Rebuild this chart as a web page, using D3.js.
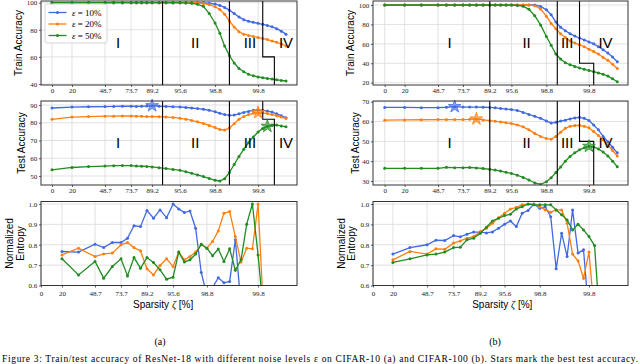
<!DOCTYPE html>
<html>
<head>
<meta charset="utf-8">
<script src="https://cdn.jsdelivr.net/npm/d3@7"></script>
<style>
  body { margin: 0; background: #fff; }
  svg { display: block; }
</style>
</head>
<body>
<svg id="fig" width="640" height="364"></svg>
<script>
// pruning iterations k that carry a sparsity tick label
const tickK = [0, 1, 3, 6, 10, 14, 20, 29];
const tickLabels = ['0', '20', '48.7', '73.7', '89.2', '95.6', '98.8', '99.8'];
const noiseLabels = ['10%', '20%', '50%'];
const phaseNames = ['I', 'II', 'III', 'IV'];
const colors = ['#4169e1', '#ff7f0e', '#228b22'];

// CIFAR-10 train accuracy, k = 0..35
const c10TrainE10 = [100, 100, 100, 100, 100, 100, 100, 100, 100, 100, 100, 100, 100, 100, 100, 100, 100, 100,
  99.9, 99.6, 99, 98, 96.5, 94.5, 92, 89.5, 87.5, 86.3, 85.5, 84.8, 84, 83.2, 82.2, 80.8, 79, 76.8];
const c10TrainE20 = [100, 100, 100, 100, 100, 100, 100, 100, 100, 100, 100, 100, 100, 100, 100, 100, 100,
  99.8, 99.4, 98.6, 97, 95, 91.5, 86.5, 82, 78.5, 76.8, 75.8, 75, 74.3, 73.6, 72.8, 71.8, 70.8, 69.5, 68.1];
const c10TrainE50 = [100, 100, 100, 100, 100, 100, 100, 100, 100, 100, 100, 100, 100, 100, 100,
  99.8, 99.5, 98.8, 97.3, 92, 85, 77.5, 68, 61, 55.5, 51.5, 49, 47.2, 46, 45.2, 44.6, 44.1, 43.6, 43.1, 42.6, 42.2];

// CIFAR-10 test accuracy, k = 0..35
const c10TestE10 = [88.3, 88.8, 89.0, 89.1, 89.2, 89.3, 89.3, 89.2, 89.3, 89.4, 89.6, 89.3, 89.2, 89.0, 88.9, 88.6, 88.3, 88.0,
  87.6, 87.0, 86.2, 85.3, 84.6, 84.2, 84.3, 85.0, 85.8, 86.4, 87.0, 87.2, 87.0, 86.6, 86.0, 85.0, 84.0, 82.8];
const c10TestE20 = [81.9, 83.2, 83.5, 83.7, 83.7, 83.8, 83.8, 83.7, 83.6, 83.5, 83.5, 83.4, 83.2, 83.0, 82.5, 82.0, 81.3, 80.5,
  79.6, 78.5, 77.3, 76.2, 75.9, 77.0, 79.5, 82.0, 83.5, 84.6, 85.3, 85.7, 85.6, 85.2, 84.6, 84.0, 83.2, 82.4];
const c10TestE50 = [53.5, 54.8, 55.3, 55.6, 55.8, 55.9, 55.9, 55.6, 55.5, 55.4, 55.1, 54.7, 54.2, 53.7, 53.2, 52.4, 51.5, 50.6,
  49.7, 48.6, 47.6, 47.2, 48.5, 52.0, 56.5, 61.0, 65.0, 68.8, 72.0, 74.8, 76.8, 78.0, 78.5, 78.7, 78.2, 77.7];

// CIFAR-10 normalized entropy, k = 1..
const c10EntE10 = [0.767, 0.764, 0.803, 0.786, 0.811, 0.811, 0.832, 0.893, 0.889, 0.968, 0.930, 0.971, 0.933, 1.0,
  0.976, 0.958, 0.966, 0.881, 0.664, 0.55, 0.59, 0.638, 0.613, 0.62, 0.824, 0.5];
const c10EntE20 = [0.750, 0.783, 0.742, 0.755, 0.759, 0.800, 0.811, 0.786, 0.770, 0.682, 0.652, 0.698, 0.731, 0.693,
  0.764, 0.726, 0.742, 0.764, 0.800, 0.783, 0.816, 0.868, 0.955, 0.963, 0.840, 0.715, 0.783, 0.780, 1.0, 0.45];
const c10EntE50 = [0.731, 0.652, 0.718, 0.636, 0.693, 0.731, 0.647, 0.737, 0.685, 0.737, 0.713, 0.677, 0.631, 0.641,
  0.764, 0.715, 0.726, 0.754, 0.803, 0.783, 0.746, 0.779, 0.718, 0.780, 0.675, 0.726, 0.901, 1.0, 0.75, 0.45];

// CIFAR-100 train accuracy, k = 0..35
const c100TrainE10 = [100, 100, 100, 100, 100, 100, 100, 100, 100, 100, 100, 100, 100, 100, 100, 100, 100, 100, 100,
  98.5, 95, 90, 82.5, 77, 73.5, 70.5, 68, 66, 64, 62, 60, 57, 54, 50.5, 46.5, 41.6];
const c100TrainE20 = [100, 100, 100, 100, 100, 100, 100, 100, 100, 100, 100, 100, 100, 100, 100, 100, 100, 100,
  99.3, 96, 88.5, 81, 75.5, 70.5, 66.5, 63, 60.8, 59, 57, 54.5, 52, 49.5, 46, 43, 39, 34.7];
const c100TrainE50 = [100, 100, 100, 100, 100, 100, 100, 100, 100, 100, 100, 100, 100, 100, 100,
  99.6, 98.8, 95.5, 89, 79.5, 67.5, 58.5, 49.5, 44.5, 40.5, 38.5, 36.8, 35.2, 33.8, 32.6, 31.3, 30, 28.6, 26.8, 24, 21];

// CIFAR-100 test accuracy, k = 0..35
const c100TestE10 = [67.1, 67.1, 67.0, 67.0, 67.2, 67.5, 67.3, 67.3, 67.3, 67.2, 67.1, 66.9, 66.6, 66.3, 66.0, 65.6, 64.6, 63.6,
  62.6, 61.6, 60.3, 59.2, 59.6, 60.2, 60.7, 61.3, 61.8, 62.1, 61.6, 60.5, 58.2, 55.8, 52.5, 49.8, 47.0, 44.2];
const c100TestE20 = [60.7, 60.8, 60.9, 61.0, 61.0, 61.0, 61.0, 61.1, 61.3, 60.8, 60.4, 60.1, 59.8, 59.4, 59.0, 58.3, 57.3, 55.8,
  54.0, 52.5, 51.4, 51.1, 52.4, 54.6, 56.6, 57.6, 58.0, 58.1, 57.6, 56.8, 55.0, 53.0, 50.8, 48.2, 45.4, 42.6];
const c100TestE50 = [36.4, 36.4, 36.4, 36.4, 36.9, 36.7, 36.7, 36.8, 36.6, 36.3, 35.9, 35.5, 35.0, 34.4, 33.8, 32.9, 31.8, 30.5,
  29.0, 28.3, 29.6, 31.6, 34.3, 37.0, 40.0, 42.3, 44.2, 45.7, 46.8, 47.5, 47.2, 46.2, 44.6, 42.6, 40.0, 37.2];

// CIFAR-100 normalized entropy, k = 1..
const c100EntE10 = [0.754, 0.786, 0.800, 0.822, 0.821, 0.845, 0.839, 0.852, 0.862, 0.862, 0.858, 0.863, 0.881, 0.901,
  0.917, 0.889, 0.955, 0.968, 1.0, 0.979, 0.987, 0.938, 0.682, 0.857, 0.742, 0.971, 0.759, 0.775, 0.45];
const c100EntE20 = [0.726, 0.767, 0.754, 0.780, 0.778, 0.808, 0.819, 0.832, 0.840, 0.865, 0.881, 0.906, 0.933, 0.955,
  0.975, 0.984, 0.996, 0.999, 0.999, 0.987, 0.971, 0.960, 0.971, 0.971, 0.906, 0.754, 0.721, 0.636, 0.764, 0.45];
const c100EntE50 = [0.713, 0.731, 0.750, 0.754, 0.764, 0.786, 0.788, 0.824, 0.832, 0.857, 0.886, 0.917, 0.930, 0.943,
  0.950, 0.976, 0.987, 1.0, 0.996, 0.996, 0.996, 0.996, 0.971, 0.947, 0.922, 0.873, 0.901, 0.873, 0.840, 0.796, 0.4];

// best test accuracy (stars), phase boundaries and phase label spots, in k
const c10StarK = [10, 29, 31];
const c100StarK = [5, 8, 29];
const c10PhaseK = [11.5, 23, 30, 32.5];
const c100PhaseK = [10, 22.3, 27, 30];
const c10PhaseLabelK = [4.5, 16.6, 27.3, 35];
const c100PhaseLabelK = [4.4, 16.6, 24.4, 32.5];

const serif = '"Liberation Serif", "DejaVu Serif", serif';
const sans = '"Liberation Sans", Arial, sans-serif';
const svg = d3.select('#fig');
let clipCount = 0;

function drawPanel(p) {
  const g = svg.append('g').attr('transform', `translate(${p.x0},${p.y0})`);
  const x = d3.scaleLinear().domain(p.stopK).range(p.stopF.map((f) => f * p.w));
  const y = d3.scaleLinear().domain(p.yDomain).range([p.h, 0]);
  const clipId = 'clip' + clipCount++;
  g.append('clipPath').attr('id', clipId).append('rect').attr('width', p.w).attr('height', p.h);

  // grid
  g.append('g').selectAll('line').data(tickK).join('line')
    .attr('x1', (d) => x(d)).attr('x2', (d) => x(d))
    .attr('y1', 0).attr('y2', p.h)
    .attr('stroke', '#d9d9d9').attr('stroke-width', 0.8);
  g.append('g').selectAll('line').data(p.yTicks).join('line')
    .attr('x1', 0).attr('x2', p.w)
    .attr('y1', (d) => y(d)).attr('y2', (d) => y(d))
    .attr('stroke', '#d9d9d9').attr('stroke-width', 0.8);

  const xAxis = g.append('g')
    .attr('transform', `translate(0,${p.h})`)
    .call(d3.axisBottom(x).tickValues(tickK).tickFormat((d, i) => tickLabels[i])
      .tickSizeInner(2).tickSizeOuter(0).tickPadding(p.xPad));
  const yAxis = g.append('g')
    .call(d3.axisLeft(y).tickValues(p.yTicks).tickFormat(p.yFmt)
      .tickSizeInner(2).tickSizeOuter(0).tickPadding(1.7));
  [xAxis, yAxis].forEach((a) => {
    a.select('.domain').remove();
    a.selectAll('line').attr('stroke', '#333').attr('stroke-width', 0.8);
    a.selectAll('text').attr('font-family', serif).attr('font-size', 7).attr('fill', '#222');
  });

  const line = d3.line().x((d) => x(d.k)).y((d) => y(d.v));
  p.series.forEach((vals, si) => {
    const pts = vals.map((v, i) => ({ k: p.startK + i, v: v }));
    const sg = g.append('g').attr('clip-path', `url(#${clipId})`);
    sg.append('path').datum(pts)
      .attr('d', line)
      .attr('fill', 'none')
      .attr('stroke', colors[si])
      .attr('stroke-width', 1.3);
    sg.selectAll('circle').data(pts).join('circle')
      .attr('cx', (d) => x(d.k)).attr('cy', (d) => y(d.v))
      .attr('r', 1.5)
      .attr('fill', colors[si]);
  });

  if (p.bounds) {
    const [b1, b2, b3, b4] = p.bounds;
    [b1, b2].forEach((b) => {
      g.append('line')
        .attr('x1', x(b)).attr('x2', x(b))
        .attr('y1', 0).attr('y2', p.h)
        .attr('stroke', '#000').attr('stroke-width', 1.1);
    });
    g.append('path')
      .attr('d', `M${x(b3)},0V${y(p.stepV)}H${x(b4)}V${p.h}`)
      .attr('fill', 'none').attr('stroke', '#000').attr('stroke-width', 1.1);
  }

  if (p.stars) {
    p.stars.forEach((k, si) => {
      g.append('path')
        .attr('d', d3.symbol(d3.symbolStar, 50)())
        .attr('transform', `translate(${x(k)},${y(p.series[si][k - p.startK])})`)
        .attr('fill', colors[si]).attr('fill-opacity', 0.6)
        .attr('stroke', colors[si]).attr('stroke-width', 0.8);
    });
  }

  g.append('rect')
    .attr('width', p.w).attr('height', p.h)
    .attr('fill', 'none').attr('stroke', '#333').attr('stroke-width', 1);

  if (p.phaseLabelK) {
    g.append('g').selectAll('text').data(p.phaseLabelK).join('text')
      .attr('x', (d) => x(d)).attr('y', p.h * 0.49)
      .attr('text-anchor', 'middle').attr('dominant-baseline', 'central')
      .attr('font-family', sans).attr('font-size', 15)
      .text((d, i) => phaseNames[i]);
  }

  p.ylabel.forEach((txt, i) => {
    g.append('text')
      .attr('transform', `translate(${p.ylabelDx[i]},${p.h / 2}) rotate(-90)`)
      .attr('text-anchor', 'middle')
      .attr('font-family', sans).attr('font-size', 10)
      .text(txt);
  });

  if (p.xlabel) {
    const t = g.append('text')
      .attr('x', p.w * p.xlabelF).attr('y', p.h + 22)
      .attr('text-anchor', 'middle')
      .attr('font-family', sans).attr('font-size', 10);
    t.append('tspan').text('Sparsity ');
    t.append('tspan').attr('font-family', serif).attr('font-style', 'italic').text('ζ');
    t.append('tspan').text(' [%]');
  }

  if (p.legend) {
    const lg = g.append('g').attr('transform', 'translate(4,3)');
    lg.append('rect')
      .attr('width', 62).attr('height', 39).attr('rx', 2)
      .attr('fill', '#fff').attr('fill-opacity', 0.85)
      .attr('stroke', '#ccc').attr('stroke-width', 0.8);
    noiseLabels.forEach((lab, i) => {
      const row = lg.append('g').attr('transform', `translate(0,${8.5 + i * 11.5})`);
      row.append('line').attr('x1', 3.5).attr('x2', 21.5)
        .attr('stroke', colors[i]).attr('stroke-width', 1.3);
      row.append('circle').attr('cx', 12.5).attr('r', 1.5).attr('fill', colors[i]);
      const t = row.append('text').attr('x', 27).attr('y', 3)
        .attr('font-family', serif).attr('font-size', 9);
      t.append('tspan').attr('font-style', 'italic').text('ε');
      t.append('tspan').text(' = ' + lab);
    });
  }
}

const accStopK = [0, 1, 3, 6, 10, 14, 20, 29, 35];
const entStopK = [0, 1, 3, 6, 10, 14, 20, 29, 36];

const columns = [
  {
    x0: 41, w: 256,
    accStops: [0.043, 0.121, 0.25, 0.352, 0.434, 0.543, 0.68, 0.848, 0.957],
    entStops: [0, 0.082, 0.211, 0.3125, 0.414, 0.516, 0.648, 0.848, 1.0],
    train: [c10TrainE10, c10TrainE20, c10TrainE50], trainDomain: [39.26, 101.25], trainTicks: [40, 60, 80, 100], trainStep: 60,
    test: [c10TestE10, c10TestE20, c10TestE50], testDomain: [44.93, 92.25], testTicks: [50, 60, 70, 80, 90], testStep: 82,
    ent: [c10EntE10, c10EntE20, c10EntE50],
    stars: c10StarK, bounds: c10PhaseK, phaseLabelK: c10PhaseLabelK,
    dx: { train: -19, test: -16, ent: [-28, -17.5] }, xlabelF: 0.477, legend: true,
    caption: '(a)', captionX: 160
  },
  {
    x0: 373, w: 255,
    accStops: [0.046, 0.124, 0.255, 0.353, 0.458, 0.543, 0.68, 0.847, 0.958],
    entStops: [0, 0.078, 0.212, 0.316, 0.421, 0.516, 0.654, 0.847, 1.0],
    train: [c100TrainE10, c100TrainE20, c100TrainE50], trainDomain: [17.63, 104.12], trainTicks: [20, 40, 60, 80, 100], trainStep: 40,
    test: [c100TestE10, c100TestE20, c100TestE50], testDomain: [27.98, 70.35], testTicks: [30, 40, 50, 60, 70], testStep: 50,
    ent: [c100EntE10, c100EntE20, c100EntE50],
    stars: c100StarK, bounds: c100PhaseK, phaseLabelK: c100PhaseLabelK,
    dx: { train: -19, test: -14.5, ent: [-28, -18] }, xlabelF: 0.507, legend: false,
    caption: '(b)', captionX: 495
  }
];

columns.forEach((c) => {
  drawPanel({
    x0: c.x0, y0: 1, w: c.w, h: 84, stopK: accStopK, stopF: c.accStops,
    yDomain: c.trainDomain, yTicks: c.trainTicks, yFmt: d3.format('d'), xPad: 0.7,
    series: c.train, startK: 0, bounds: c.bounds, stepV: c.trainStep,
    phaseLabelK: c.phaseLabelK, ylabel: ['Train Accuracy'], ylabelDx: [c.dx.train],
    legend: c.legend
  });
  drawPanel({
    x0: c.x0, y0: 101, w: c.w, h: 84, stopK: accStopK, stopF: c.accStops,
    yDomain: c.testDomain, yTicks: c.testTicks, yFmt: d3.format('d'), xPad: 0.7,
    series: c.test, startK: 0, bounds: c.bounds, stepV: c.testStep, stars: c.stars,
    phaseLabelK: c.phaseLabelK, ylabel: ['Test Accuracy'], ylabelDx: [c.dx.test]
  });
  drawPanel({
    x0: c.x0, y0: 201.5, w: c.w, h: 84, stopK: entStopK, stopF: c.entStops,
    yDomain: [0.6, 1.0123], yTicks: [0.6, 0.7, 0.8, 0.9, 1.0], yFmt: d3.format('.1f'), xPad: 3.5,
    series: c.ent, startK: 1, ylabel: ['Normalized', 'Entropy'], ylabelDx: c.dx.ent,
    xlabel: true, xlabelF: c.xlabelF
  });
  svg.append('text')
    .attr('x', c.captionX).attr('y', 344.5)
    .attr('text-anchor', 'middle')
    .attr('font-family', serif).attr('font-size', 10)
    .text(c.caption);
});

svg.append('text')
  .attr('x', 2).attr('y', 362)
  .attr('textLength', 636).attr('lengthAdjust', 'spacing')
  .attr('font-family', serif).attr('font-size', 9.5)
  .text('Figure 3: Train/test accuracy of ResNet-18 with different noise levels ε on CIFAR-10 (a) and CIFAR-100 (b). Stars mark the best test accuracy.');
</script>
</body>
</html>
